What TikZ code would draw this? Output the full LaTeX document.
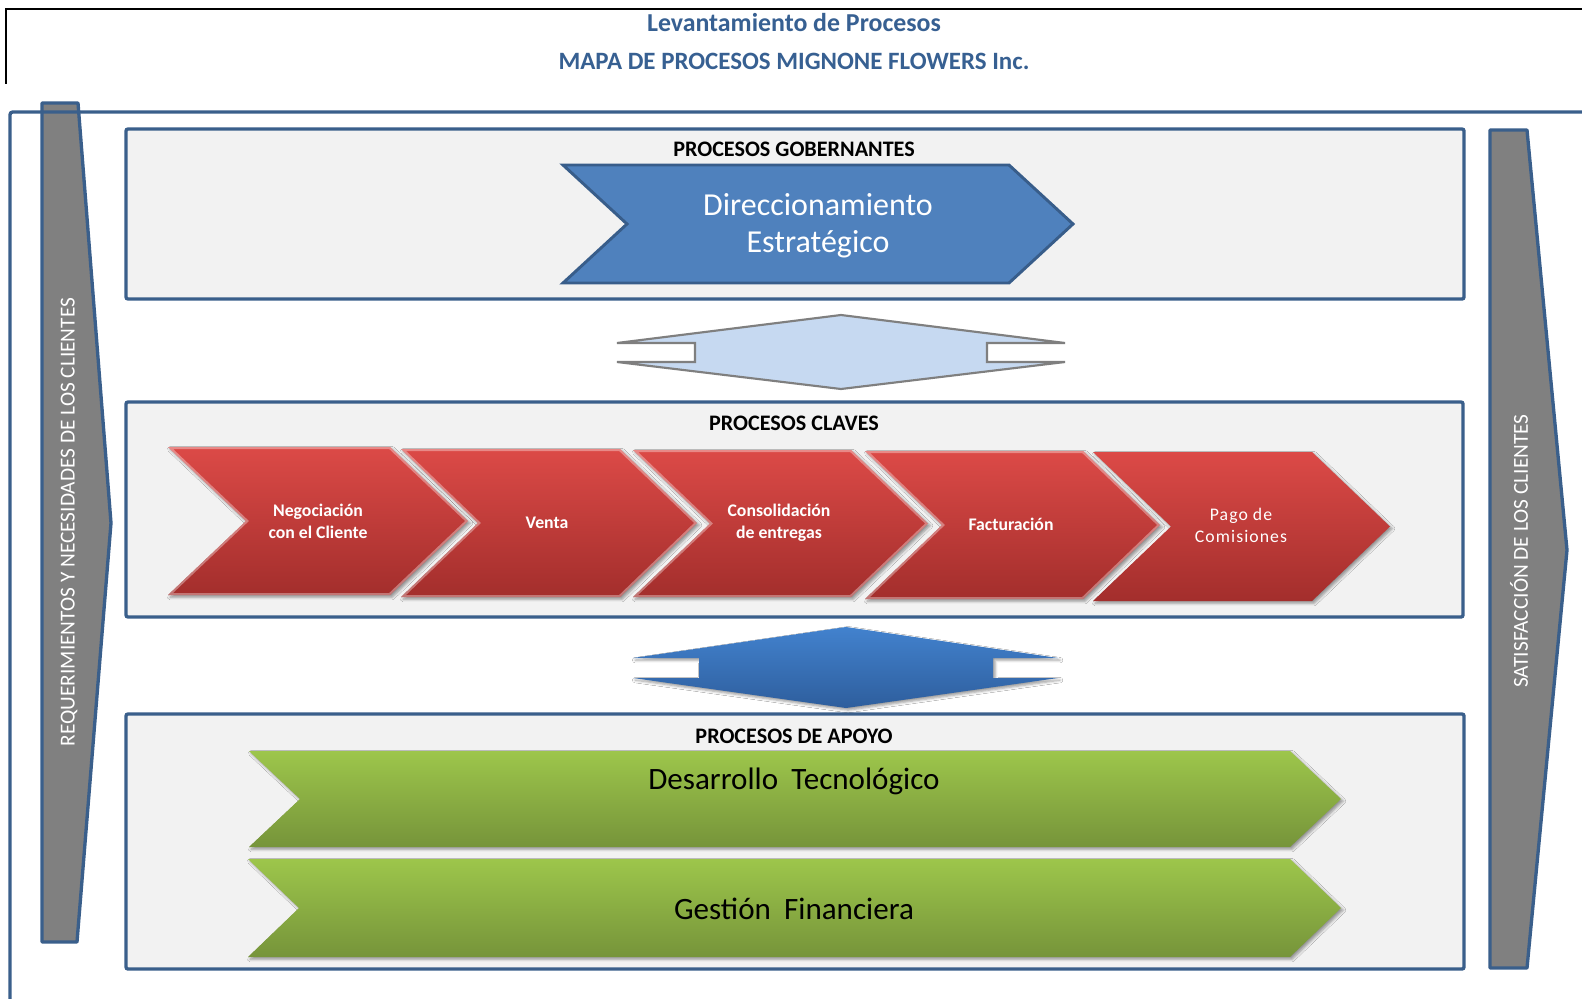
\documentclass[tikz,border=0pt]{standalone}
\usepackage{fontspec}
\setmainfont{Carlito}
\usetikzlibrary{shadows.blur}

\definecolor{frameblue}{HTML}{3A5F8B}
\definecolor{boxgray}{HTML}{F2F2F2}
\definecolor{arrowgray}{HTML}{808080}
\definecolor{titleblue}{HTML}{376092}
\definecolor{chevblue}{HTML}{4F81BD}
\definecolor{chevbluedark}{HTML}{385D8A}
\definecolor{redtop}{HTML}{DC4A47}
\definecolor{redbot}{HTML}{A32E2C}
\definecolor{greentop}{HTML}{9DC64B}
\definecolor{greenbot}{HTML}{76943A}
\definecolor{lightlink}{HTML}{C6D9F1}
\definecolor{linkgray}{HTML}{7F7F7F}
\definecolor{linkbluetop}{HTML}{4282CE}
\definecolor{linkbluebot}{HTML}{2E5E9D}

% chevron outline: left x, right x (top corner), top y, bottom y, point depth
\newcommand{\chevpath}[5]{(#1,#3) -- (#2,#3) -- ({#2+#5},{(#3+#4)/2}) -- (#2,#4) -- (#1,#4) -- ({#1+#5},{(#3+#4)/2}) -- cycle}
% two-headed link arrow: left end, inner left, centre x, inner right, right end, apex top, bar top, bar bottom, apex bottom
\newcommand{\linkpath}[9]{(#3,#6) -- (#5,#7) -- (#4,#7) -- (#4,#8) -- (#5,#8) -- (#3,#9) -- (#1,#8) -- (#2,#8) -- (#2,#7) -- (#1,#7) -- cycle}

\tikzset{
  titletext/.style={font=\bfseries\fontsize{19.4}{23}\selectfont, text=titleblue, inner sep=0pt},
  sectiontext/.style={font=\bfseries\fontsize{16.6}{20}\selectfont, inner sep=0pt},
  procbox/.style={draw=frameblue, fill=boxgray, line width=2.5pt, rounded corners=1.5pt},
  sidearrow/.style={draw=frameblue, fill=arrowgray, line width=2.5pt, line join=round},
  sidetext/.style={font=\fontsize{16}{19}\selectfont, text=white, inner sep=0pt, rotate=90},
  softshadow/.style={blur shadow={shadow xshift=1.6pt, shadow yshift=-1.6pt, shadow blur radius=2pt, shadow opacity=40}},
  redchev/.style={softshadow, top color=redtop, bottom color=redbot},
  bevel/.style={draw=white, draw opacity=0.35, line width=3pt},
  greenchev/.style={softshadow, top color=greentop, bottom color=greenbot},
  bluechev/.style={draw=chevbluedark, fill=chevblue, line width=2.2pt, line join=miter},
  redtext/.style={font=\bfseries\fontsize{13.3}{16.5}\selectfont, text=white, align=center, inner sep=0pt},
  bigtext/.style={font=\fontsize{23.3}{28}\selectfont, inner sep=0pt, align=center},
}

\begin{document}
\begin{tikzpicture}[x=0.75pt, y=-0.75pt]
\useasboundingbox (0,0) rectangle (1582,999);
\fill[white] (0,0) rectangle (1582,999);

% header frame and titles
\draw[black, line width=1.5pt] (6,84) -- (6,9) -- (1582,9);
\node[titletext] (title1) at (794,23) {Levantamiento de Procesos};
\node[titletext, font=\bfseries\fontsize{18.7}{23}\selectfont] (title2) at (794,61) {MAPA DE PROCESOS MIGNONE FLOWERS Inc.};

% side arrows
\draw[sidearrow] (42,103) -- (78,103) -- (111,523) -- (77,942) -- (42,942) -- cycle;
\draw[sidearrow] (1490,130) -- (1527,130) -- (1567,550) -- (1527,968) -- (1490,968) -- cycle;
\node[sidetext] (reqtext) at (69,522) {REQUERIMIENTOS Y NECESIDADES DE LOS CLIENTES};
\node[sidetext] (sattext) at (1519,551) {SATISFACCIÓN DE LOS CLIENTES};

% outer frame
\draw[frameblue, line width=2.5pt, rounded corners=2pt] (10,999) -- (10,112) -- (1582,112);

% process boxes
\draw[procbox] (126,129) rectangle (1464,299);
\draw[procbox] (126,402) rectangle (1463,617);
\draw[procbox] (126,714) rectangle (1464,969);
\node[sectiontext] (gobtitle) at (794,149) {PROCESOS GOBERNANTES};
\node[sectiontext] (clatitle) at (794,423) {PROCESOS CLAVES};
\node[sectiontext] (apotitle) at (794,736) {PROCESOS DE APOYO};

% governing process
\path[bluechev] \chevpath{563}{1009}{165}{283}{64};
\node[bigtext, text=white, font=\fontsize{24}{28}\selectfont] (direc) at (818,226) {Direccionamiento\\Estratégico};

% links between levels
\path[draw=linkgray, fill=lightlink, line width=1.6pt, line join=miter]
  \linkpath{617}{695}{841}{987}{1065}{315}{343}{362}{389};
\path[softshadow, top color=linkbluetop, bottom color=linkbluebot]
  \linkpath{633}{699}{846}{993}{1058}{627}{658}{678}{708};

% key processes
\path[redchev] \chevpath{168}{390}{447}{595}{78};
\begin{scope}\clip \chevpath{168}{390}{447}{595}{78}; \path[bevel] \chevpath{168}{390}{447}{595}{78}; \end{scope}
\path[redchev] \chevpath{401}{620}{449}{597}{77};
\begin{scope}\clip \chevpath{401}{620}{449}{597}{77}; \path[bevel] \chevpath{401}{620}{449}{597}{77}; \end{scope}
\path[redchev] \chevpath{633}{851}{450}{597}{77};
\begin{scope}\clip \chevpath{633}{851}{450}{597}{77}; \path[bevel] \chevpath{633}{851}{450}{597}{77}; \end{scope}
\path[redchev] \chevpath{865}{1083}{451}{599}{77};
\begin{scope}\clip \chevpath{865}{1083}{451}{599}{77}; \path[bevel] \chevpath{865}{1083}{451}{599}{77}; \end{scope}
\path[redchev] \chevpath{1093}{1312}{452}{601}{78};

\node[redtext] (negoc) at (318,521) {Negociación\\con el Cliente};
\node[redtext] (venta) at (547,523) {Venta};
\node[redtext] (consol) at (779,523) {Consolidación\\de entregas};
\node[redtext] (factur) at (1011,524) {Facturación};
\node[redtext, font=\fontsize{13.3}{16.5}\selectfont\addfontfeatures{LetterSpace=6}] (pago) at (1241,525) {Pago de\\Comisiones};

% support processes
\path[greenchev] \chevpath{249}{1290}{751}{847}{51};
\path[greenchev] \chevpath{248}{1290}{859}{957}{51};
\node[bigtext] (desarrollo) at (794,781) {Desarrollo\hspace{0.2em} Tecnológico};
\node[bigtext] (gestion) at (794,909) {Gestión\hspace{0.2em} Financiera};
\end{tikzpicture}
\end{document}
